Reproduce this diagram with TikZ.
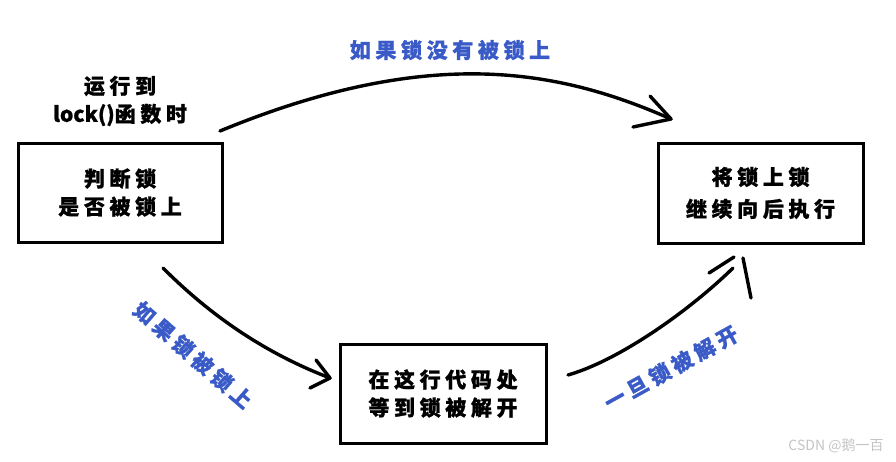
\documentclass[tikz,border=0pt]{standalone}
\usepackage{fontspec}
\setmainfont{Noto Sans CJK SC}
\newfontfamily\wmfont{Noto Sans CJK SC}
\definecolor{lblblue}{HTML}{3A5BC7}
\definecolor{wmgray}{HTML}{C4C4C4}
\newcommand{\nospace}[1]{{\addfontfeatures{LetterSpace=0}#1}}
\begin{document}
\begin{tikzpicture}[x=1pt,y=-1pt,
  txt/.style={font=\fontsize{21}{28}\bfseries\addfontfeatures{LetterSpace=22,FakeBold=1}\selectfont, align=center, inner sep=0pt},
  box/.style={draw=black, line width=3pt, txt, minimum width=204pt, minimum height=99pt},
  lbl/.style={txt, text=lblblue},
  stroke/.style={line width=3.4pt, line cap=round, line join=round}]
\useasboundingbox (0,0) rectangle (896,461);
% boxes
\node[box] (A) at (120,192.5) {判断锁\\是否被锁上};
\node[box, minimum width=205pt, minimum height=100pt, font=\fontsize{21}{32}\bfseries\addfontfeatures{LetterSpace=22,FakeBold=1}\selectfont] (B) at (760.5,193) {将锁上锁\\继续向后执行};
\node[box, minimum width=206pt, minimum height=99pt] (C) at (443,393.5) {在这行代码处\\等到锁被解开};
% labels
\node[txt] (run) at (120,101) {运行到\\\nospace{lock()}函数时};
\node[lbl] (l1) at (450,50) {如果锁没有被锁上};
\node[lbl, rotate=-41] (l2) at (193,355) {如果锁被锁上};
\node[lbl, rotate=29] (l3) at (671,368) {一旦锁被解开};
\node[font=\wmfont\fontsize{14}{16}\selectfont, text=wmgray, inner sep=0pt] (wm) at (836,446) {CSDN @鹅一百};
% connector end points
\coordinate (s1) at (220,131);
\coordinate (t1) at (671,119);
\coordinate (s2) at (163,268);
\coordinate (t2) at (330,378);
\coordinate (s3) at (568,375);
\coordinate (t3) at (733,268);
% top arrow: A -> B
\draw[stroke] (s1) .. controls (431,44) and (560,70) .. (t1);
\draw[stroke] (650,96) -- (t1) -- (633,127);
% left arrow: A -> C
\draw[stroke] (s2) .. controls (215,320) and (270,355) .. (t2);
\draw[stroke] (316,360) -- (t2) -- (310,388);
% right arrow: C -> B
\draw[stroke] (s3) .. controls (620,360) and (690,310) .. (t3);
\draw[stroke] (709,273) -- (734,257);
\draw[stroke] (743,258) -- (751,298);
\end{tikzpicture}
\end{document}
